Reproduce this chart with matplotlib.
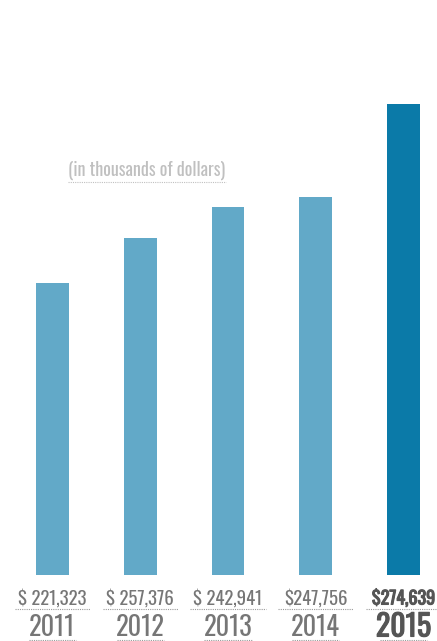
import matplotlib
matplotlib.use('Agg')
import matplotlib.pyplot as plt
import matplotlib.patheffects as pe
from matplotlib import font_manager

years = ['2011', '2012', '2013', '2014', '2015']
value_labels = ['$ 221,323', '$ 257,376', '$ 242,941', '$247,756', '$274,639']
# bar heights as drawn in the source graphic (relative units)
bar_heights = [292, 337, 368, 378, 471]

colors = {'light': '#62a9c8', 'dark': '#0b7aa8', 'text': '#767676',
          'bold': '#555555', 'sub': '#c0c0c0', 'dots': '#9a9a9a'}

names = {f.name for f in font_manager.fontManager.ttflist}
font = next(n for n in ['Oswald', 'Pathway Gothic One', 'Roboto Condensed',
                        'Liberation Sans Narrow', 'DejaVu Sans'] if n in names)

W, H = 437, 641
fig = plt.figure(figsize=(W / 100, H / 100), dpi=100)
fig.patch.set_facecolor('white')

# axes: full width, bottom at the bar baseline (y px 575), one unit = one px vertically
ax = fig.add_axes([0, 1 - 575 / H, 1, 575 / H])
step = 87.75
x0 = -52.5 / step
ax.set_xlim(x0, x0 + W / step)
ax.set_ylim(0, 575)
ax.axis('off')

bar_colors = [colors['light']] * 4 + [colors['dark']]
ax.bar(range(len(years)), bar_heights, width=0.376, color=bar_colors)

bold_fx = [pe.withStroke(linewidth=0.8, foreground=colors['bold'])]

for i, (yr, lab) in enumerate(zip(years, value_labels)):
    last = i == len(years) - 1
    col = colors['bold'] if last else colors['text']
    fx = bold_fx if last else None
    ax.text(i, -23, lab, ha='center', va='center', fontsize=13.5 if not last else 13,
            family=font, color=col, path_effects=fx, clip_on=False)
    ax.plot([i - 0.43, i + 0.43], [-34, -34], color=colors['dots'], lw=0.8,
            ls=(0, (1, 1)), clip_on=False)
    ax.text(i, -52, yr, ha='center', va='center', fontsize=19 if not last else 21.5,
            family=font, color=col, path_effects=fx, clip_on=False)
    ax.plot([i - 0.27, i + 0.27], [-65, -65], color=colors['dots'], lw=0.8,
            ls=(0, (1, 1)), clip_on=False)

fig.text(68 / W, 1 - 170 / H, '(in thousands of dollars)', ha='left', va='center',
         fontsize=13, family=font, color=colors['sub'])
fig.add_artist(plt.Line2D([68 / W, 226 / W], [1 - 182 / H, 1 - 182 / H],
                          color=colors['sub'], lw=0.8, ls=(0, (1, 1))))

plt.savefig('out.png', dpi=100, facecolor='white')
